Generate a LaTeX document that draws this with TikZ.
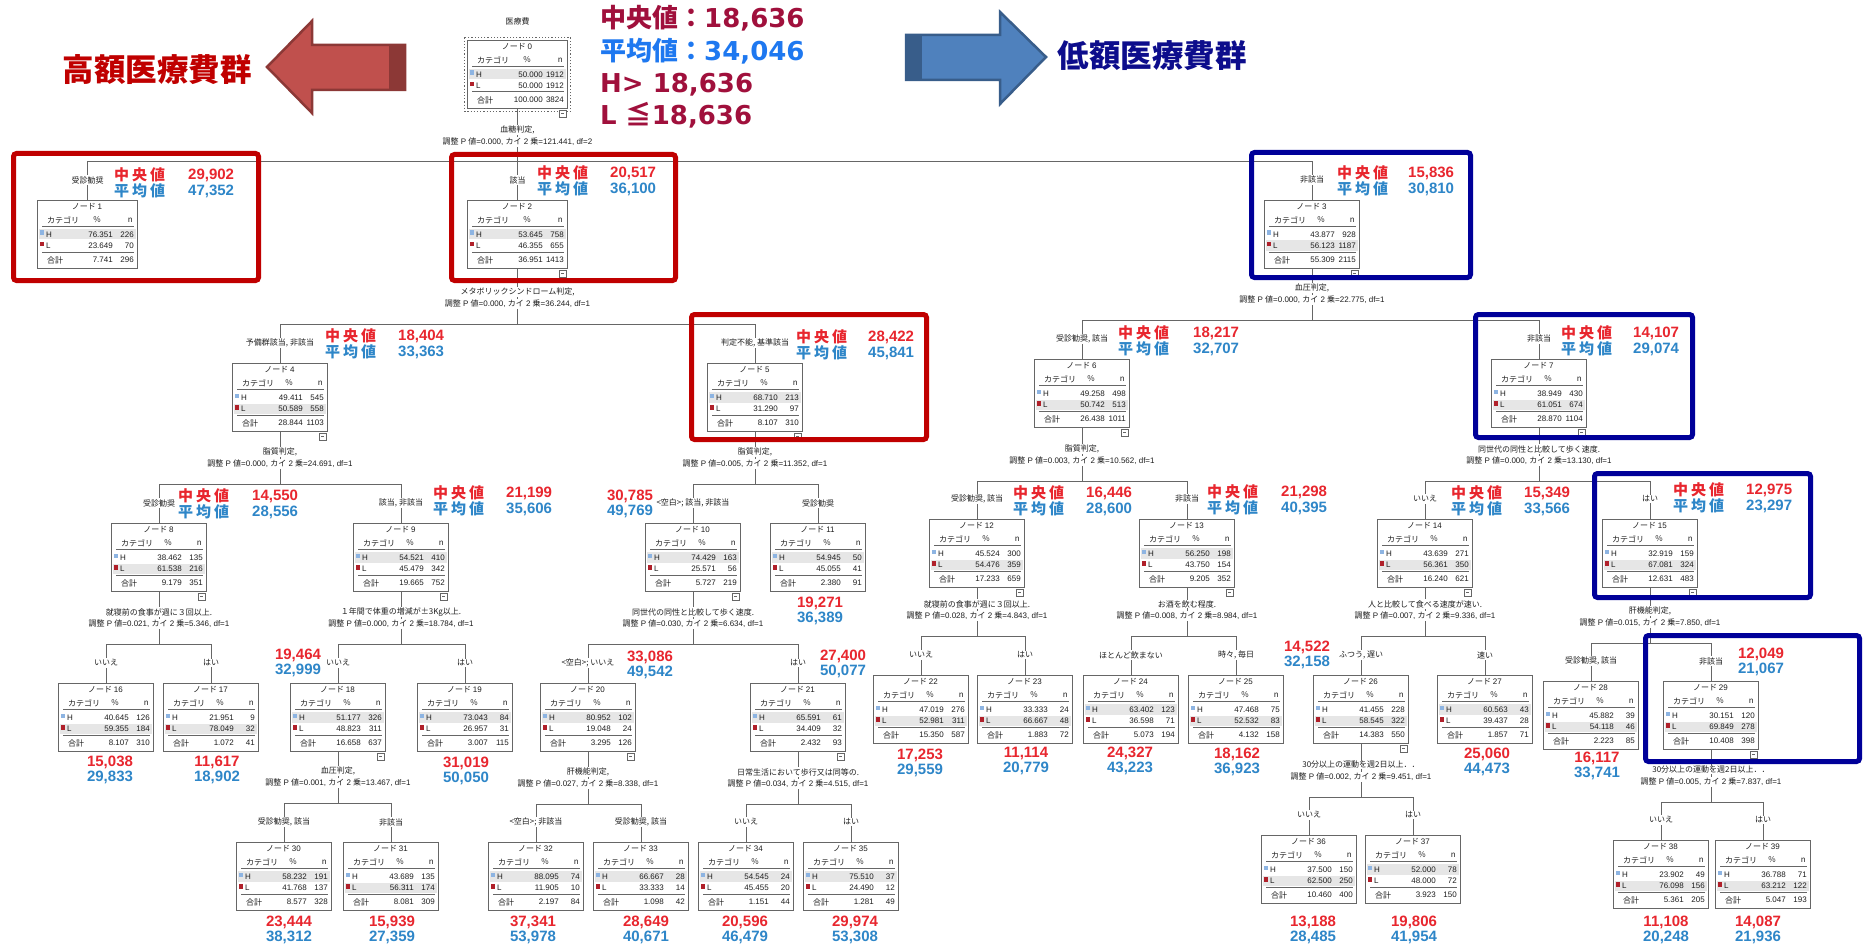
\documentclass[tikz,border=0pt]{standalone}
\usepackage{fontspec}
\setmainfont{Noto Sans CJK JP}
\newfontfamily\dejavu{DejaVu Sans}
\newfontfamily\libs{Liberation Sans}
\usetikzlibrary{calc}
\definecolor{medred}{HTML}{E8262E}
\definecolor{meanblue}{HTML}{2E86C8}
\definecolor{hired}{HTML}{C00000}
\definecolor{navyb}{HTML}{000099}
\definecolor{topred}{HTML}{A0103C}
\definecolor{topblue}{HTML}{1E78F0}
\definecolor{lowtext}{HTML}{0D0D8C}
\definecolor{arrred}{HTML}{C0504D}
\definecolor{arrreddk}{HTML}{8C3836}
\definecolor{arrblue}{HTML}{4F81BD}
\definecolor{arrbluedk}{HTML}{385D8A}
\definecolor{linegray}{HTML}{666666}
\definecolor{rowgray}{HTML}{E6E6E6}
\definecolor{hsq}{HTML}{8DB4E2}
\definecolor{lsq}{HTML}{B0202A}
\definecolor{txtc}{HTML}{1E1E1E}
\tikzset{
 conn/.style={draw=linegray, line width=1pt},
 tbx/.style={draw=linegray, line width=1pt, fill=white, minimum height=68pt, inner sep=0pt},
 tt/.style={font=\fontsize{8}{9}\selectfont, text=txtc, inner sep=0pt},
 lbl/.style={font=\fontsize{8}{9}\selectfont, text=txtc, fill=white, inner sep=1.2pt},
 spl/.style={font=\fontsize{8}{9}\selectfont, text=txtc, fill=white, inner sep=0.8pt},
 medl/.style={font=\fontsize{15}{17}\selectfont\bfseries, text=medred, inner sep=0pt},
 meanl/.style={font=\fontsize{15}{17}\selectfont\bfseries, text=meanblue, inner sep=0pt},
 medn/.style={font=\libs\fontsize{15}{17}\selectfont\bfseries, text=medred, inner sep=0pt},
 meann/.style={font=\libs\fontsize{15}{17}\selectfont\bfseries, text=meanblue, inner sep=0pt},
 hirect/.style={draw=hired, line width=5pt, rounded corners=3pt},
 lorect/.style={draw=navyb, line width=5pt, rounded corners=3pt},
 bigt/.style={anchor=base west, inner sep=0pt, font=\fontsize{26}{30}\selectfont\bfseries},
}
\def\bw{100}
\newcommand{\treebox}[9]{%
\node[tbx, minimum width=\bw*1pt, anchor=north west] (#1) at #2 {};
\begin{scope}[shift={(#1.north west)}]
\pgfmathtruncatemacro{\shH}{(#4<#6) ? 0 : 1}%
\ifnum\shH=1\relax
  \fill[rowgray] (1.5,29) rectangle (\bw-1.5,39.5);
\else
  \fill[rowgray] (1.5,40.5) rectangle (\bw-1.5,51);
\fi
\node[tt] (#1t) at (\bw/2,7) {ノード {\libs #3}};
\node[tt, anchor=west] (#1c) at (10,20) {カテゴリ};
\node[tt] (#1p) at (\bw*0.6,20) {\%};
\node[tt, anchor=east] (#1n) at (\bw-4,20) {n};
\draw[conn, line width=0.7pt] (5,26.5) -- (\bw-3,26.5);
\fill[hsq] (3,30.5) rectangle (6.5,35);
\node[tt, anchor=west] (#1h) at (9,34.5) {\libs H};
\node[tt, anchor=east] (#1hp) at (\bw-24,34.5) {\libs #4};
\node[tt, anchor=east] (#1hn) at (\bw-3,34.5) {\libs #5};
\fill[lsq] (3,42) rectangle (6.5,46.5);
\node[tt, anchor=west] (#1l) at (9,46) {\libs L};
\node[tt, anchor=east] (#1lp) at (\bw-24,46) {\libs #6};
\node[tt, anchor=east] (#1ln) at (\bw-3,46) {\libs #7};
\draw[conn, line width=1pt] (5,52) -- (\bw-3,52);
\node[tt, anchor=west] (#1s) at (10,60) {合計};
\node[tt, anchor=east] (#1sp) at (\bw-24,60) {\libs #8};
\node[tt, anchor=east] (#1sn) at (\bw-3,60) {\libs #9};
\end{scope}}
\newcommand{\tbranch}[3]{\draw[conn] (#1.south) -- (#2) -| (#3.north);}
\newcommand{\elabel}[2]{\node[lbl] (#1e) at ($(#1.north)+(0,-20)$) {#2};}
\newcommand{\splt}[3]{\node[spl] (#1x) at ($(#1)+(0,-32)$) {#2};\node[spl] (#1y) at ($(#1)+(0,-20)$) {#3};}
\newcommand{\pstat}[3]{調整{\libs\ P }値{\libs =#1, }カイ{\libs\ 2 }乗{\libs =#2, df=#3}}
\newcommand{\triple}[3]{\makebox[51pt][s]{#1\hfil#2\hfil#3}}
\newcommand{\medmean}[6]{%
\node[medl, anchor=west] (#1a) at (#2,#3) {\triple{中}{央}{値}};
\node[medn, anchor=west] (#1b) at (#4,#3) {#5};
\node[meanl, anchor=west] (#1c) at (#2,#3+16) {\triple{平}{均}{値}};
\node[meann, anchor=west] (#1d) at (#4,#3+16) {#6};}
\newcommand{\mmval}[5]{%
\node[medn] (#1a) at (#2,#3) {#4};
\node[meann] (#1b) at (#2,#3+15.5) {#5};}
\newcommand{\minusbox}[1]{%
\draw[conn, line width=0.7pt, fill=white] ($(#1.south east)+(-9,1)$) rectangle ++(7,7);
\draw[conn, line width=0.7pt] ($(#1.south east)+(-7,4.5)$) -- ++(3,0);}
\begin{document}
\begin{tikzpicture}[x=1pt,y=-1pt]
\useasboundingbox (0,0) rectangle (1874,944);
\fill[white] (0,0) rectangle (1874,944);
% ---------- boxes
\def\bw{100}
\treebox{n0}{(467,40)}{0}{50.000}{1912}{50.000}{1912}{100.000}{3824}
\treebox{n1}{(37,200)}{1}{76.351}{226}{23.649}{70}{7.741}{296}
\treebox{n2}{(467,200)}{2}{53.645}{758}{46.355}{655}{36.951}{1413}
\def\bw{95}
\treebox{n3}{(1264,200)}{3}{43.877}{928}{56.123}{1187}{55.309}{2115}
\treebox{n4}{(232,363)}{4}{49.411}{545}{50.589}{558}{28.844}{1103}
\treebox{n5}{(707,363)}{5}{68.710}{213}{31.290}{97}{8.107}{310}
\treebox{n6}{(1034,359)}{6}{49.258}{498}{50.742}{513}{26.438}{1011}
\treebox{n7}{(1491,359)}{7}{38.949}{430}{61.051}{674}{28.870}{1104}
\treebox{n8}{(111,523)}{8}{38.462}{135}{61.538}{216}{9.179}{351}
\treebox{n9}{(353,523)}{9}{54.521}{410}{45.479}{342}{19.665}{752}
\treebox{n10}{(645,523)}{10}{74.429}{163}{25.571}{56}{5.727}{219}
\treebox{n11}{(770,523)}{11}{54.945}{50}{45.055}{41}{2.380}{91}
\treebox{n12}{(929,519)}{12}{45.524}{300}{54.476}{359}{17.233}{659}
\treebox{n13}{(1139,519)}{13}{56.250}{198}{43.750}{154}{9.205}{352}
\treebox{n14}{(1377,519)}{14}{43.639}{271}{56.361}{350}{16.240}{621}
\treebox{n15}{(1602,519)}{15}{32.919}{159}{67.081}{324}{12.631}{483}
\treebox{n16}{(58,683)}{16}{40.645}{126}{59.355}{184}{8.107}{310}
\treebox{n17}{(163,683)}{17}{21.951}{9}{78.049}{32}{1.072}{41}
\treebox{n18}{(290,683)}{18}{51.177}{326}{48.823}{311}{16.658}{637}
\treebox{n19}{(417,683)}{19}{73.043}{84}{26.957}{31}{3.007}{115}
\treebox{n20}{(540,683)}{20}{80.952}{102}{19.048}{24}{3.295}{126}
\treebox{n21}{(750,683)}{21}{65.591}{61}{34.409}{32}{2.432}{93}
\treebox{n22}{(873,675)}{22}{47.019}{276}{52.981}{311}{15.350}{587}
\treebox{n23}{(977,675)}{23}{33.333}{24}{66.667}{48}{1.883}{72}
\treebox{n24}{(1083,675)}{24}{63.402}{123}{36.598}{71}{5.073}{194}
\treebox{n25}{(1188,675)}{25}{47.468}{75}{52.532}{83}{4.132}{158}
\treebox{n26}{(1313,675)}{26}{41.455}{228}{58.545}{322}{14.383}{550}
\treebox{n27}{(1437,675)}{27}{60.563}{43}{39.437}{28}{1.857}{71}
\treebox{n28}{(1543,681)}{28}{45.882}{39}{54.118}{46}{2.223}{85}
\treebox{n29}{(1663,681)}{29}{30.151}{120}{69.849}{278}{10.408}{398}
\treebox{n30}{(236,842)}{30}{58.232}{191}{41.768}{137}{8.577}{328}
\treebox{n31}{(343,842)}{31}{43.689}{135}{56.311}{174}{8.081}{309}
\treebox{n32}{(488,842)}{32}{88.095}{74}{11.905}{10}{2.197}{84}
\treebox{n33}{(593,842)}{33}{66.667}{28}{33.333}{14}{1.098}{42}
\treebox{n34}{(698,842)}{34}{54.545}{24}{45.455}{20}{1.151}{44}
\treebox{n35}{(803,842)}{35}{75.510}{37}{24.490}{12}{1.281}{49}
\treebox{n36}{(1261,835)}{36}{37.500}{150}{62.500}{250}{10.460}{400}
\treebox{n37}{(1365,835)}{37}{52.000}{78}{48.000}{72}{3.923}{150}
\treebox{n38}{(1613,840)}{38}{23.902}{49}{76.098}{156}{5.361}{205}
\treebox{n39}{(1715,840)}{39}{36.788}{71}{63.212}{122}{5.047}{193}
\draw[linegray, dotted, line width=1.2pt] ($(n0.north west)+(-2.5,-2.5)$) rectangle ($(n0.south east)+(2.5,2.5)$);
\node[lbl] (n0ttl) at ($(n0.north)+(0,-19)$) {医療費};
% ---------- buses
\coordinate (b0) at ($(n0.south)+(0,53)$);
\coordinate (b2) at ($(n2.south)+(0,55)$);
\coordinate (b3) at ($(n3.south)+(0,51)$);
\coordinate (b4) at ($(n4.south)+(0,52)$);
\coordinate (b5) at ($(n5.south)+(0,52)$);
\coordinate (b6) at ($(n6.south)+(0,53)$);
\coordinate (b7) at ($(n7.south)+(0,53)$);
\coordinate (b8) at ($(n8.south)+(0,52)$);
\coordinate (b9) at ($(n9.south)+(0,52)$);
\coordinate (b10) at ($(n10.south)+(0,52)$);
\coordinate (b12) at ($(n12.south)+(0,48)$);
\coordinate (b13) at ($(n13.south)+(0,48)$);
\coordinate (b14) at ($(n14.south)+(0,48)$);
\coordinate (b15) at ($(n15.south)+(0,55)$);
\coordinate (b18) at ($(n18.south)+(0,51)$);
\coordinate (b20) at ($(n20.south)+(0,52)$);
\coordinate (b21) at ($(n21.south)+(0,52)$);
\coordinate (b26) at ($(n26.south)+(0,53)$);
\coordinate (b29) at ($(n29.south)+(0,52)$);
% ---------- branches
\tbranch{n0}{b0}{n1} \tbranch{n0}{b0}{n2} \tbranch{n0}{b0}{n3}
\tbranch{n2}{b2}{n4} \tbranch{n2}{b2}{n5}
\tbranch{n3}{b3}{n6} \tbranch{n3}{b3}{n7}
\tbranch{n4}{b4}{n8} \tbranch{n4}{b4}{n9}
\tbranch{n5}{b5}{n10} \tbranch{n5}{b5}{n11}
\tbranch{n6}{b6}{n12} \tbranch{n6}{b6}{n13}
\tbranch{n7}{b7}{n14} \tbranch{n7}{b7}{n15}
\tbranch{n8}{b8}{n16} \tbranch{n8}{b8}{n17}
\tbranch{n9}{b9}{n18} \tbranch{n9}{b9}{n19}
\tbranch{n10}{b10}{n20} \tbranch{n10}{b10}{n21}
\tbranch{n12}{b12}{n22} \tbranch{n12}{b12}{n23}
\tbranch{n13}{b13}{n24} \tbranch{n13}{b13}{n25}
\tbranch{n14}{b14}{n26} \tbranch{n14}{b14}{n27}
\tbranch{n15}{b15}{n28} \tbranch{n15}{b15}{n29}
\tbranch{n18}{b18}{n30} \tbranch{n18}{b18}{n31}
\tbranch{n20}{b20}{n32} \tbranch{n20}{b20}{n33}
\tbranch{n21}{b21}{n34} \tbranch{n21}{b21}{n35}
\tbranch{n26}{b26}{n36} \tbranch{n26}{b26}{n37}
\tbranch{n29}{b29}{n38} \tbranch{n29}{b29}{n39}
% ---------- minus boxes
\foreach \m in {n0,n2,n3,n4,n5,n6,n7,n8,n9,n10,n12,n13,n14,n15,n18,n20,n21,n26,n29} {\minusbox{\m}}
% ---------- edge labels
\elabel{n1}{受診勧奨} \elabel{n2}{該当} \elabel{n3}{非該当}
\elabel{n4}{予備群該当, 非該当} \elabel{n5}{判定不能, 基準該当}
\elabel{n6}{受診勧奨, 該当} \elabel{n7}{非該当}
\elabel{n8}{受診勧奨} \elabel{n9}{該当, 非該当}
\elabel{n10}{<空白>; 該当, 非該当} \elabel{n11}{受診勧奨}
\elabel{n12}{受診勧奨, 該当} \elabel{n13}{非該当}
\elabel{n14}{いいえ} \elabel{n15}{はい}
\elabel{n16}{いいえ} \elabel{n17}{はい} \elabel{n18}{いいえ} \elabel{n19}{はい}
\elabel{n20}{<空白>; いいえ} \elabel{n21}{はい}
\elabel{n22}{いいえ} \elabel{n23}{はい} \elabel{n24}{ほとんど飲まない} \elabel{n25}{時々, 毎日}
\elabel{n26}{ふつう, 遅い} \elabel{n27}{速い}
\elabel{n28}{受診勧奨, 該当} \elabel{n29}{非該当}
\elabel{n30}{受診勧奨, 該当} \elabel{n31}{非該当}
\elabel{n32}{<空白>; 非該当} \elabel{n33}{受診勧奨, 該当}
\elabel{n34}{いいえ} \elabel{n35}{はい} \elabel{n36}{いいえ} \elabel{n37}{はい}
\elabel{n38}{いいえ} \elabel{n39}{はい}
% ---------- split texts
\splt{b0}{血糖判定,}{\pstat{0.000}{121.441}{2}}
\splt{b2}{メタボリックシンドローム判定,}{\pstat{0.000}{36.244}{1}}
\splt{b3}{血圧判定,}{\pstat{0.000}{22.775}{1}}
\splt{b4}{脂質判定,}{\pstat{0.000}{24.691}{1}}
\splt{b5}{脂質判定,}{\pstat{0.005}{11.352}{1}}
\splt{b6}{脂質判定,}{\pstat{0.003}{10.562}{1}}
\splt{b7}{同世代の同性と比較して歩く速度.}{\pstat{0.000}{13.130}{1}}
\splt{b8}{就寝前の食事が週に３回以上.}{\pstat{0.021}{5.346}{1}}
\splt{b9}{１年間で体重の増減が±3Kg以上.}{\pstat{0.000}{18.784}{1}}
\splt{b10}{同世代の同性と比較して歩く速度.}{\pstat{0.030}{6.634}{1}}
\splt{b12}{就寝前の食事が週に３回以上.}{\pstat{0.028}{4.843}{1}}
\splt{b13}{お酒を飲む程度.}{\pstat{0.008}{8.984}{1}}
\splt{b14}{人と比較して食べる速度が速い.}{\pstat{0.007}{9.336}{1}}
\splt{b15}{肝機能判定,}{\pstat{0.015}{7.850}{1}}
\splt{b18}{血圧判定,}{\pstat{0.001}{13.467}{1}}
\splt{b20}{肝機能判定,}{\pstat{0.027}{8.338}{1}}
\splt{b21}{日常生活において歩行又は同等の.}{\pstat{0.034}{4.515}{1}}
\splt{b26}{30分以上の運動を週2日以上．．}{\pstat{0.002}{9.451}{1}}
\splt{b29}{30分以上の運動を週2日以上．．}{\pstat{0.005}{7.837}{1}}
% ---------- median / mean annotations
\medmean{a1}{114}{175}{188}{29,902}{47,352}
\medmean{a2}{537}{173}{610}{20,517}{36,100}
\medmean{a3}{1337}{173}{1408}{15,836}{30,810}
\medmean{a4}{325}{336}{398}{18,404}{33,363}
\medmean{a5}{796}{337}{868}{28,422}{45,841}
\medmean{a6}{1118}{333}{1193}{18,217}{32,707}
\medmean{a7}{1561}{333}{1633}{14,107}{29,074}
\medmean{a8}{178}{496}{252}{14,550}{28,556}
\medmean{a9}{433}{493}{506}{21,199}{35,606}
\medmean{a12}{1013}{493}{1086}{16,446}{28,600}
\medmean{a13}{1207}{492}{1281}{21,298}{40,395}
\medmean{a14}{1451}{493}{1524}{15,349}{33,566}
\medmean{a15}{1673}{490}{1746}{12,975}{23,297}
\mmval{a10}{630}{496}{30,785}{49,769}
\mmval{a11}{820}{603}{19,271}{36,389}
\mmval{a16}{110}{762}{15,038}{29,833}
\mmval{a17}{217}{762}{11,617}{18,902}
\mmval{a18}{298}{655}{19,464}{32,999}
\mmval{a19}{466}{763}{31,019}{50,050}
\mmval{a20}{650}{657}{33,086}{49,542}
\mmval{a21}{843}{656}{27,400}{50,077}
\mmval{a22}{920}{755}{17,253}{29,559}
\mmval{a23}{1026}{753}{11,114}{20,779}
\mmval{a24}{1130}{753}{24,327}{43,223}
\mmval{a25}{1237}{754}{18,162}{36,923}
\mmval{a26}{1307}{647}{14,522}{32,158}
\mmval{a27}{1487}{754}{25,060}{44,473}
\mmval{a28}{1597}{758}{16,117}{33,741}
\mmval{a29}{1761}{654}{12,049}{21,067}
\mmval{a30}{289}{922}{23,444}{38,312}
\mmval{a31}{392}{922}{15,939}{27,359}
\mmval{a32}{533}{922}{37,341}{53,978}
\mmval{a33}{646}{922}{28,649}{40,671}
\mmval{a34}{745}{922}{20,596}{46,479}
\mmval{a35}{855}{922}{29,974}{53,308}
\mmval{a36}{1313}{922}{13,188}{28,485}
\mmval{a37}{1414}{922}{19,806}{41,954}
\mmval{a38}{1666}{922}{11,108}{20,248}
\mmval{a39}{1758}{922}{14,087}{21,936}
% ---------- highlight frames
\draw[hirect] (13.5,153.5) rectangle (258.5,280.5);
\draw[hirect] (451.5,154.5) rectangle (675.5,280.5);
\draw[hirect] (691.5,314.5) rectangle (926.5,439.5);
\draw[lorect] (1251.5,152.5) rectangle (1470.5,277.5);
\draw[lorect] (1475.5,314.5) rectangle (1692.5,437.5);
\draw[lorect] (1594.5,473.5) rectangle (1810.5,597.5);
\draw[lorect] (1645.5,635.5) rectangle (1859.5,761.5);
% ---------- arrows
\filldraw[fill=arrred, draw=arrreddk, line width=2.5pt, line join=miter] (267,67) -- (312,21) -- (312,45) -- (405,45) -- (405,90) -- (312,90) -- (312,113) -- cycle;
\fill[arrreddk] (389,46) rectangle (405,89);
\filldraw[fill=arrblue, draw=arrbluedk, line width=2.5pt, line join=miter] (1046,57) -- (1000,12) -- (1000,35) -- (906,35) -- (906,80) -- (1000,80) -- (1000,104) -- cycle;
\fill[arrbluedk] (906,36) rectangle (922,79);
\node[font=\fontsize{31.5}{34}\selectfont\bfseries, text=hired, inner sep=0pt] (hitxt) at (157,70) {高額医療費群};
\node[font=\fontsize{31.5}{34}\selectfont\bfseries, text=lowtext, inner sep=0pt] (lotxt) at (1152,56) {低額医療費群};
% ---------- legend texts
\node[bigt, text=topred] (t1) at (600,28) {中央値：{\dejavu 18,636}};
\node[bigt, text=topblue] (t2) at (600,61) {平均値：{\dejavu 34,046}};
\node[bigt, text=topred] (t3) at (600,93) {{\dejavu H> 18,636}};
\node[bigt, text=topred] (t4) at (600,125) {{\dejavu L }≦{\dejavu 18,636}};
\end{tikzpicture}
\end{document}
